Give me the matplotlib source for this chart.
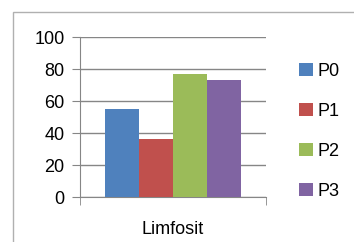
import matplotlib.pyplot as plt
from matplotlib.patches import Rectangle

plt.rcParams['font.family'] = ['Liberation Sans', 'DejaVu Sans']

series = ["P0", "P1", "P2", "P3"]
values = [55, 36, 77, 73]
colors = ["#4f81bd", "#c0504d", "#9bbb59", "#8064a2"]
category = "Limfosit"
yticks = [0, 20, 40, 60, 80, 100]

fig = plt.figure(figsize=(3.54, 2.42), dpi=100)
# outer chart frame (only top and left visible)
fig.patches.append(Rectangle((13 / 354, -0.1), 2, 1.1 - 12 / 242, transform=fig.transFigure,
                             fill=False, edgecolor="#b0b0b0", linewidth=1))

ax = fig.add_axes([80 / 354, 45 / 242, 186 / 354, 160 / 242])
w = 34 / 186
start = 0.5 - 2 * w
for i, (name, v, c) in enumerate(zip(series, values, colors)):
    ax.bar(start + i * w + w / 2, v, width=w, color=c, label=name, zorder=3,
           edgecolor="none")

ax.set_xlim(0, 1)
ax.set_ylim(0, 100)
ax.set_yticks(yticks)
ax.tick_params(axis="y", length=6, color="#868686", labelsize=13, pad=5)
ax.set_xticks([0.5])
ax.set_xticklabels([category], fontsize=13)
ax.tick_params(axis="x", length=0, pad=17)
ax.set_xticks([0, 1], minor=True)
ax.tick_params(axis="x", which="minor", length=6, color="#868686")
ax.grid(axis="y", color="#868686", linewidth=1, zorder=0)
for s in ["top", "right"]:
    ax.spines[s].set_visible(False)
for s in ["left", "bottom"]:
    ax.spines[s].set_color("#868686")

ax.legend(loc="center left", bbox_to_anchor=(1.09, 0.41), frameon=False,
          fontsize=13, handlelength=0.75, handleheight=0.75, labelspacing=1.28,
          handletextpad=0.3)

fig.savefig("out.png", dpi=100)
